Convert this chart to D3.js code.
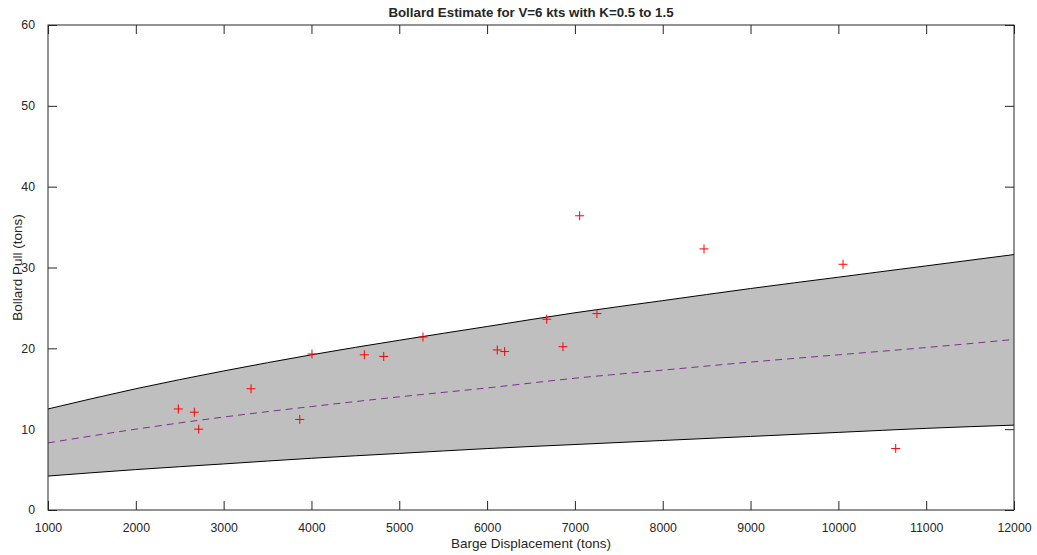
<!DOCTYPE html>
<html>
<head>
<meta charset="utf-8">
<script src="https://cdn.jsdelivr.net/npm/d3@7"></script>
<style>
  body { margin: 0; background: #fff; }
  text { font-family: "Liberation Sans", Arial, sans-serif; fill: #262626; }
</style>
</head>
<body>
<svg id="chart"></svg>
<script>
// band curves at every 1000 tons
const displacement = [1000, 2000, 3000, 4000, 5000, 6000, 7000, 8000, 9000, 10000, 11000, 12000];
const upperK = [12.5, 15.0, 17.2, 19.2, 21.0, 22.7, 24.4, 25.9, 27.4, 28.8, 30.2, 31.6];
const middleK = [8.3, 10.0, 11.5, 12.8, 14.0, 15.1, 16.3, 17.3, 18.3, 19.2, 20.1, 21.1];
const lowerK = [4.2, 5.0, 5.7, 6.4, 7.0, 7.6, 8.1, 8.6, 9.1, 9.6, 10.1, 10.5];

// observed barges
const bargeTons = [2484, 2666, 2716, 3312, 3867, 4006, 4602, 4823, 5270, 6116, 6200, 6679, 6864, 7054, 7251, 8470, 10053, 10653];
const bargePull = [12.5, 12.1, 10.0, 15.0, 11.2, 19.3, 19.2, 19.0, 21.4, 19.8, 19.6, 23.6, 20.2, 36.4, 24.3, 32.3, 30.4, 7.6];

const xTicks = d3.range(1000, 12001, 1000);
const yTicks = [0, 10, 20, 30, 40, 50, 60];

const width = 1037, height = 555;
const margin = { top: 25, right: 23, bottom: 45, left: 48 };
const innerW = width - margin.left - margin.right;
const innerH = height - margin.top - margin.bottom;
const axisColor = "#262626";
const tickLen = 9;

const svg = d3.select("#chart").attr("width", width).attr("height", height);
const g = svg.append("g").attr("transform", `translate(${margin.left},${margin.top})`);

const x = d3.scaleLinear().domain([1000, 12000]).range([0, innerW]);
const y = d3.scaleLinear().domain([0, 60]).range([innerH, 0]);

// ticks on all four sides, pointing inward (fill is drawn over them)
function styleAxis(sel) {
    sel.select(".domain").remove();
    sel.selectAll(".tick line").attr("stroke", axisColor);
    sel.selectAll(".tick text").attr("font-size", "12.3px").attr("fill", axisColor);
}

g.append("g")
    .attr("transform", `translate(0,${innerH})`)
    .call(d3.axisBottom(x).tickValues(xTicks).tickSizeInner(-tickLen).tickSizeOuter(0).tickPadding(13).tickFormat(d3.format("d")))
    .call(styleAxis);

g.append("g")
    .call(d3.axisTop(x).tickValues(xTicks).tickSizeInner(-tickLen).tickSizeOuter(0).tickFormat(""))
    .call(styleAxis);

g.append("g")
    .call(d3.axisLeft(y).tickValues(yTicks).tickSizeInner(-tickLen).tickSizeOuter(0).tickPadding(13))
    .call(styleAxis);

g.append("g")
    .attr("transform", `translate(${innerW},0)`)
    .call(d3.axisRight(y).tickValues(yTicks).tickSizeInner(-tickLen).tickSizeOuter(0).tickFormat(""))
    .call(styleAxis);

const band = displacement.map((d, i) => ({ d, lo: lowerK[i], mid: middleK[i], hi: upperK[i] }));

g.append("path")
    .datum(band)
    .attr("fill", "#bfbfbf")
    .attr("d", d3.area().x(p => x(p.d)).y0(p => y(p.lo)).y1(p => y(p.hi)).curve(d3.curveMonotoneX));

const edge = key => d3.line().x(p => x(p.d)).y(p => y(p[key])).curve(d3.curveMonotoneX);

g.append("path").datum(band).attr("fill", "none").attr("stroke", "#000").attr("stroke-width", 1).attr("d", edge("hi"));
g.append("path").datum(band).attr("fill", "none").attr("stroke", "#000").attr("stroke-width", 1).attr("d", edge("lo"));
g.append("path").datum(band).attr("fill", "none").attr("stroke", "#7e2f8e").attr("stroke-width", 1)
    .attr("stroke-dasharray", "7,5").attr("d", edge("mid"));

// box
g.append("rect")
    .attr("width", innerW).attr("height", innerH)
    .attr("fill", "none").attr("stroke", axisColor).attr("stroke-width", 1);

// + markers
const pts = bargeTons.map((t, i) => ({ t, p: bargePull[i] }));
const s = 4.5;
g.selectAll(".mark")
    .data(pts)
    .enter()
    .append("path")
    .attr("class", "mark")
    .attr("fill", "none")
    .attr("stroke", "#ff0000")
    .attr("stroke-width", 1)
    .attr("d", d => {
        const cx = x(d.t), cy = y(d.p);
        return `M${cx - s},${cy}H${cx + s}M${cx},${cy - s}V${cy + s}`;
    });

svg.append("text")
    .attr("x", margin.left + innerW / 2)
    .attr("y", 17)
    .attr("text-anchor", "middle")
    .attr("font-size", "13.3px")
    .attr("font-weight", "bold")
    .attr("fill", "#000")
    .text("Bollard Estimate for V=6 kts with K=0.5 to 1.5");

svg.append("text")
    .attr("x", margin.left + innerW / 2)
    .attr("y", 548)
    .attr("text-anchor", "middle")
    .attr("font-size", "13.5px")
    .text("Barge Displacement (tons)");

svg.append("text")
    .attr("transform", `translate(22,${margin.top + innerH / 2}) rotate(-90)`)
    .attr("text-anchor", "middle")
    .attr("font-size", "13.5px")
    .text("Bollard Pull (tons)");
</script>
</body>
</html>
